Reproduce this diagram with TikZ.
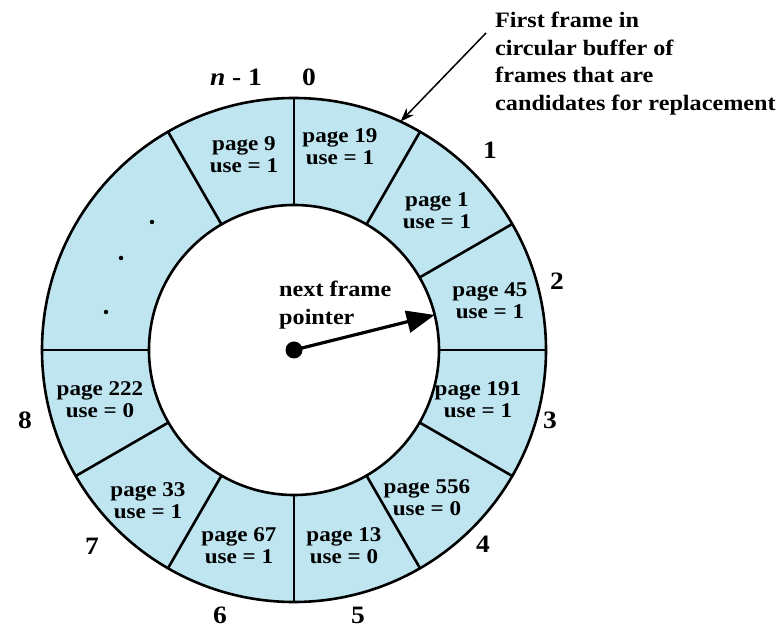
\documentclass[tikz,border=0pt]{standalone}
\usepackage{fontspec}
\setmainfont{Liberation Serif}[FakeStretch=1.1]
\usetikzlibrary{arrows.meta}
\definecolor{ringblue}{RGB}{190,229,240}
\begin{document}
\begin{tikzpicture}[x=1pt,y=1pt,
  pagelbl/.style={font=\fontsize{21}{22}\selectfont\bfseries, align=center, inner sep=0pt},
  numlbl/.style={font=\fontsize{25}{28}\selectfont\bfseries, inner sep=0pt},
  notelbl/.style={font=\fontsize{22}{27.5}\selectfont\bfseries, align=left, inner sep=0pt},
  ring/.style={line width=2.6pt},
  smalldot/.style={circle, fill=black, inner sep=0pt, minimum size=4.5pt}]
\useasboundingbox (0,0) rectangle (779,629);
\coordinate (c) at (294,279);
\fill[ringblue, even odd rule] (c) circle (252) (c) circle (145);
\draw[ring] (c) circle (252) (c) circle (145);
\foreach \a in {90,60,30,0,-30,-60,-90,-120,-150,180,120}
  \draw[ring, shift={(c)}] (\a:145) -- (\a:252);
% page labels
\node[pagelbl] (p19) at (340,482) {page 19\\use = 1};
\node[pagelbl] (p9) at (244,474) {page 9\\use = 1};
\node[pagelbl] (p1) at (437,418) {page 1\\use = 1};
\node[pagelbl] (p45) at (490,328) {page 45\\use = 1};
\node[pagelbl] (p191) at (478,229) {page 191\\use = 1};
\node[pagelbl] (p556) at (427,131) {page 556\\use = 0};
\node[pagelbl] (p13) at (344,83) {page 13\\use = 0};
\node[pagelbl] (p67) at (239,83) {page 67\\use = 1};
\node[pagelbl] (p33) at (148,128) {page 33\\use = 1};
\node[pagelbl] (p222) at (100,229) {page 222\\use = 0};
% dots
\node[smalldot] (d1) at (152,407) {};
\node[smalldot] (d2) at (121,371) {};
\node[smalldot] (d3) at (106,317) {};
% numbers
\node[numlbl] (nn1) at (236,552) {\textit{n} - 1};
\node[numlbl] (n0) at (309,552) {0};
\node[numlbl] (n1) at (490,479) {1};
\node[numlbl] (n2) at (557,348) {2};
\node[numlbl] (n3) at (550,209) {3};
\node[numlbl] (n4) at (483,85) {4};
\node[numlbl] (n5) at (358,14) {5};
\node[numlbl] (n6) at (220,14) {6};
\node[numlbl] (n7) at (92,83) {7};
\node[numlbl] (n8) at (25,209) {8};
% pointer
\node[notelbl, anchor=west] (ptxt) at (279,324) {next frame\\pointer};
\node[circle, fill=black, inner sep=0pt, minimum size=17pt] (hub) at (c) {};
\path[shift={(c)}] (14:145) coordinate (ptrend);
\draw[line width=3.2pt, -{Triangle[length=28pt,width=22pt]}] (hub.center) -- (ptrend);
% annotation
\node[notelbl, anchor=north west] (note) at (495,617) {First frame in\\circular buffer of\\frames that are\\candidates for replacement};
\path[shift={(c)}] (65:252) coordinate (firstframe);
\draw[line width=1.5pt, -{Stealth[length=14pt,width=10pt]}] (486,596) -- (firstframe);
\end{tikzpicture}
\end{document}
